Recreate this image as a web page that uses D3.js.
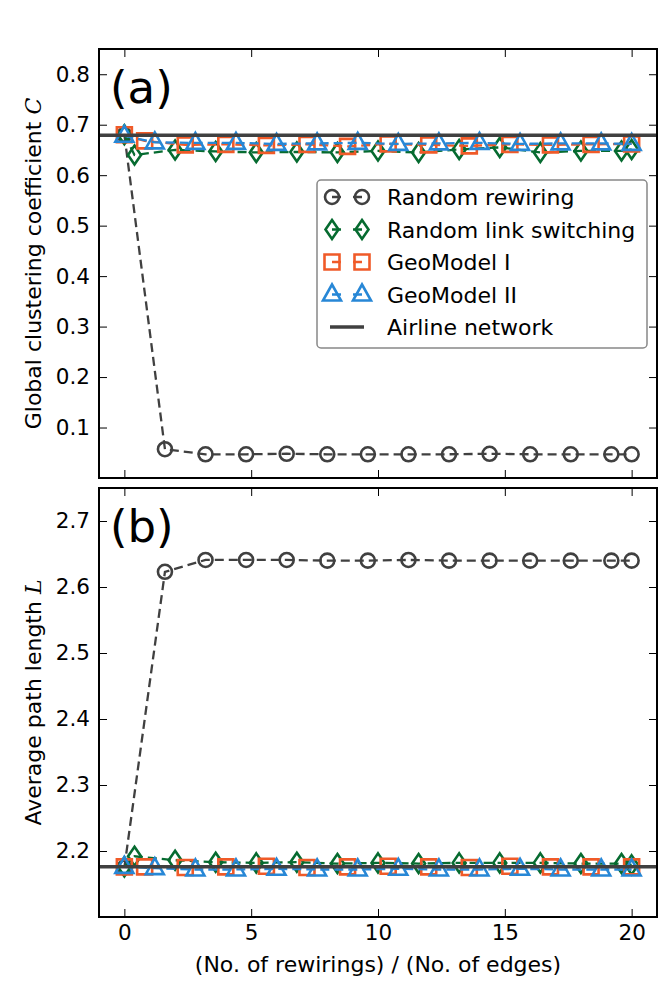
<!DOCTYPE html>
<html>
<head>
<meta charset="utf-8">
<script src="https://cdn.jsdelivr.net/npm/d3@7"></script>
<style>
  body { margin: 0; background: #fff; }
  svg { display: block; font-family: "DejaVu Sans", sans-serif; }
</style>
</head>
<body>
<svg id="chart" width="664" height="997"></svg>
<script>
// ---------- data ----------
const xRewiring  = [0, 1.6, 3.2, 4.8, 6.4, 8.0, 9.6, 11.2, 12.8, 14.4, 16.0, 17.6, 19.2, 20];
const xSwitching = [0, 0.4, 2.0, 3.6, 5.2, 6.8, 8.4, 10.0, 11.6, 13.2, 14.8, 16.4, 18.0, 19.6, 20];
const xGeo1      = [0, 0.8, 2.4, 4.0, 5.6, 7.2, 8.8, 10.4, 12.0, 13.6, 15.2, 16.8, 18.4, 20];
const xGeo2      = [0, 1.2, 2.8, 4.4, 6.0, 7.6, 9.2, 10.8, 12.4, 14.0, 15.6, 17.2, 18.8, 20];

// panel (a): global clustering coefficient
const cRewiring  = [0.680, 0.057, 0.047, 0.047, 0.048, 0.047, 0.047, 0.047, 0.047, 0.048, 0.047, 0.047, 0.047, 0.047];
const cSwitching = [0.680, 0.640, 0.650, 0.647, 0.645, 0.646, 0.645, 0.648, 0.645, 0.651, 0.655, 0.645, 0.648, 0.648, 0.651];
const cGeo1      = [0.680, 0.668, 0.660, 0.661, 0.659, 0.661, 0.657, 0.662, 0.660, 0.658, 0.661, 0.660, 0.661, 0.662];
const cGeo2      = [0.678, 0.665, 0.664, 0.664, 0.662, 0.663, 0.664, 0.662, 0.663, 0.664, 0.662, 0.663, 0.663, 0.662];
const cAirline   = 0.679;

// panel (b): average path length
const lRewiring  = [2.175, 2.623, 2.641, 2.641, 2.641, 2.640, 2.640, 2.641, 2.640, 2.640, 2.640, 2.640, 2.640, 2.640];
const lSwitching = [2.176, 2.192, 2.186, 2.183, 2.182, 2.183, 2.181, 2.182, 2.181, 2.182, 2.182, 2.182, 2.181, 2.181, 2.179];
const lGeo1      = [2.176, 2.176, 2.175, 2.176, 2.177, 2.175, 2.176, 2.177, 2.176, 2.175, 2.177, 2.176, 2.176, 2.176];
const lGeo2      = [2.176, 2.174, 2.172, 2.172, 2.173, 2.172, 2.172, 2.173, 2.172, 2.172, 2.173, 2.172, 2.172, 2.172];
const lAirline   = 2.176;

const xTicks  = [0, 5, 10, 15, 20];
const yTicksA = [0.1, 0.2, 0.3, 0.4, 0.5, 0.6, 0.7, 0.8];
const yTicksB = [2.2, 2.3, 2.4, 2.5, 2.6, 2.7];

const seriesNames = ["Random rewiring", "Random link switching", "GeoModel I", "GeoModel II"];
const airlineName = "Airline network";

// ---------- styles ----------
const colRew = "#404040", colSw = "#066b30", colG1 = "#f05a28", colG2 = "#2787d6", colAir = "#404040";
const series = [
  {name: seriesNames[0], x: xRewiring,  a: cRewiring,  b: lRewiring,  color: colRew, marker: "circle"},
  {name: seriesNames[1], x: xSwitching, a: cSwitching, b: lSwitching, color: colSw,  marker: "diamond"},
  {name: seriesNames[2], x: xGeo1,      a: cGeo1,      b: lGeo1,      color: colG1,  marker: "square"},
  {name: seriesNames[3], x: xGeo2,      a: cGeo2,      b: lGeo2,      color: colG2,  marker: "triangle"}
];

const svg = d3.select("#chart");
const L = 99, R = 657;
const FS = 22, TFS = 21.5;
const panels = [
  {top: 49, bottom: 478, domain: [0, 0.85], ticks: yTicksA, key: "a", label: "(a)", ylab: "Global clustering coefficient ", sym: "C", airline: cAirline},
  {top: 488, bottom: 917, domain: [2.1, 2.75], ticks: yTicksB, key: "b", label: "(b)", ylab: "Average path length ", sym: "L", airline: lAirline}
];

const x = d3.scaleLinear().domain([-1, 21]).range([L, R]);

function markerPath(type) {
  switch (type) {
    case "circle": return d3.arc()({innerRadius: 0, outerRadius: 7, startAngle: 0, endAngle: 2 * Math.PI});
    case "diamond": return "M0,-9.5L6.5,0L0,9.5L-6.5,0Z";
    case "square": return "M-7.5,-7.5H7.5V7.5H-7.5Z";
    case "triangle": return "M0,-10L9,6L-9,6Z";
  }
}

panels.forEach(p => {
  const y = d3.scaleLinear().domain(p.domain).range([p.bottom, p.top]);
  const g = svg.append("g");
  const clipId = "clip-" + p.key;
  svg.append("clipPath").attr("id", clipId).append("rect")
    .attr("x", L).attr("y", p.top).attr("width", R - L).attr("height", p.bottom - p.top);

  const axL = d3.axisLeft(y).tickValues(p.ticks).tickFormat(d3.format(".1f")).tickSizeInner(-8).tickSizeOuter(0).tickPadding(9);
  const axR = d3.axisRight(y).tickValues(p.ticks).tickFormat("").tickSizeInner(-8).tickSizeOuter(0);
  const axB = d3.axisBottom(x).tickValues(xTicks).tickFormat(p.key === "b" ? d3.format("d") : "").tickSizeInner(-8).tickSizeOuter(0).tickPadding(8);
  const axT = d3.axisTop(x).tickValues(xTicks).tickFormat("").tickSizeInner(-8).tickSizeOuter(0);

  [[axL, `translate(${L},0)`], [axR, `translate(${R},0)`], [axB, `translate(0,${p.bottom})`], [axT, `translate(0,${p.top})`]].forEach(([ax, tr]) => {
    const a = g.append("g").attr("transform", tr).call(ax);
    a.select(".domain").remove();
    a.selectAll(".tick line").attr("stroke", "#000").attr("stroke-width", 1);
    a.selectAll(".tick text").attr("fill", "#000").attr("font-size", TFS).attr("font-family", "DejaVu Sans");
  });

  const plot = g.append("g").attr("clip-path", `url(#${clipId})`);
  const line = d3.line().x(d => x(d[0])).y(d => y(d[1]));

  series.forEach(s => {
    const pts = s.x.map((xv, i) => [xv, s[p.key][i]]);
    plot.append("path").attr("d", line(pts)).attr("fill", "none")
      .attr("stroke", s.color).attr("stroke-width", 2.3).attr("stroke-dasharray", "9,5");
    plot.selectAll(null).data(pts).enter().append("path")
      .attr("d", markerPath(s.marker))
      .attr("transform", d => `translate(${x(d[0])},${y(d[1])})`)
      .attr("fill", "none").attr("stroke", s.color).attr("stroke-width", 2.6);
  });

  plot.append("line").attr("x1", L).attr("x2", R).attr("y1", y(p.airline)).attr("y2", y(p.airline))
    .attr("stroke", colAir).attr("stroke-width", 3.5);

  g.append("rect").attr("x", L).attr("y", p.top).attr("width", R - L).attr("height", p.bottom - p.top)
    .attr("fill", "none").attr("stroke", "#000").attr("stroke-width", 2);

  g.append("text").attr("x", 110).attr("y", p.top + 54).attr("font-size", 45).attr("fill", "#000").text(p.label);

  const yl = g.append("text").attr("transform", `translate(41,${(p.top + p.bottom) / 2}) rotate(-90)`)
    .attr("text-anchor", "middle").attr("font-size", FS).attr("fill", "#000");
  yl.append("tspan").text(p.ylab);
  yl.append("tspan").attr("font-style", "italic").attr("font-family", "DejaVu Serif, serif").text(p.sym);
});

svg.append("text").attr("x", (L + R) / 2).attr("y", 972).attr("text-anchor", "middle")
  .attr("font-size", FS).attr("fill", "#000").text("(No. of rewirings) / (No. of edges)");

// legend
const lg = svg.append("g");
lg.append("rect").attr("x", 317).attr("y", 180).attr("width", 330).attr("height", 168).attr("rx", 4)
  .attr("fill", "#fff").attr("stroke", "#888").attr("stroke-width", 1.5);
const rowY = d => 197 + d * 32.5;
series.forEach((s, i) => {
  const yy = rowY(i);
  lg.append("line").attr("x1", 332).attr("x2", 362).attr("y1", yy).attr("y2", yy)
    .attr("stroke", s.color).attr("stroke-width", 2.3).attr("stroke-dasharray", "9,12");
  [332, 362].forEach(xx => lg.append("path").attr("d", markerPath(s.marker))
    .attr("transform", `translate(${xx},${yy})`).attr("fill", "none").attr("stroke", s.color).attr("stroke-width", 2.6));
  lg.append("text").attr("x", 387).attr("y", yy + 8).attr("font-size", FS).attr("fill", "#000").text(s.name);
});
{
  const yy = rowY(4);
  lg.append("line").attr("x1", 330).attr("x2", 364).attr("y1", yy).attr("y2", yy)
    .attr("stroke", colAir).attr("stroke-width", 3.5);
  lg.append("text").attr("x", 387).attr("y", yy + 8).attr("font-size", FS).attr("fill", "#000").text(airlineName);
}
</script>
</body>
</html>
